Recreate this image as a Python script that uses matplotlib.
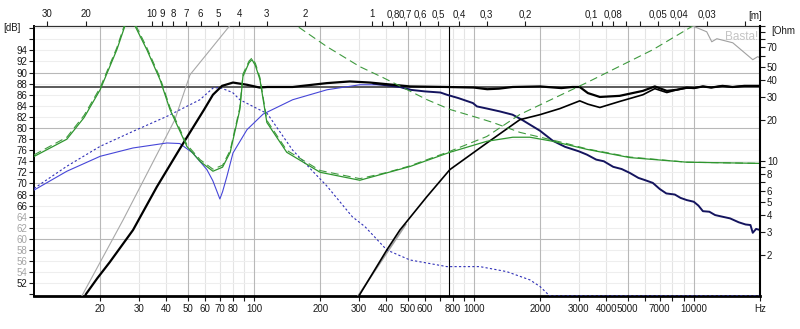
import matplotlib
matplotlib.use("Agg")
import matplotlib.pyplot as plt
from matplotlib.ticker import NullLocator

plt.rcParams['font.family'] = ['Liberation Sans', 'DejaVu Sans']
plt.rcParams['font.size'] = 7

SOUND_SPEED = 343.0   # m/s, for the wavelength scale on top
CURSOR_FREQ = 774     # Hz
CURSOR_DB = 87.4
DB_FLOOR = 49.7       # bottom of the dB scale

# --- SPL curves [dB] -------------------------------------------------------
total_freq = [16.5, 17.2, 19.4, 22.1, 28.2, 36.2, 46.1, 59.3, 65.1, 71.6,
              80.3, 93, 106, 115, 150, 215, 273, 337, 428, 512,
              754, 1000, 1150, 1300, 1500, 2000, 2500, 2800, 3030, 3300,
              3740, 4600, 5870, 6650, 7540, 8380, 9290, 10000, 11000, 12000,
              13500, 15000, 17000, 20000]
total_db = [48.0, 50.0, 52.9, 55.8, 61.6, 69.4, 76.3, 83.3, 86.0, 87.6,
            88.2, 87.8, 87.3, 87.4, 87.4, 88.1, 88.4, 88.2, 87.8, 87.5,
            87.4, 87.3, 87.0, 87.1, 87.4, 87.5, 87.2, 87.4, 87.4, 86.3,
            85.6, 85.8, 86.7, 87.5, 86.7, 86.9, 87.3, 87.2, 87.5, 87.3,
            87.6, 87.4, 87.6, 87.6]

tweeter_freq = [290, 300, 402, 461, 611, 778, 1146, 1618, 1995, 2460,
                3030, 3300, 3740, 4610, 5870, 6650, 7540, 8380, 9290, 10000,
                11000, 12000, 13500, 15000, 17000, 20000]
tweeter_db = [48.7, 49.7, 58.0, 61.6, 67.6, 72.5, 77.3, 81.5, 82.4, 83.5,
              84.9, 84.3, 83.7, 84.8, 86.0, 87.1, 86.4, 86.9, 87.2, 87.2,
              87.5, 87.3, 87.6, 87.4, 87.6, 87.6]

tweeter_raw_freq = [285, 490]
tweeter_raw_db = [48.6, 62.6]

woofer_raw_freq = [15.8, 16.5, 25.4, 43.7, 51.2, 77.8, 85.0]
woofer_raw_db = [48.3, 49.7, 63.4, 81.5, 89.6, 98.5, 100.4]

woofer_sim_freq = [10, 14.1, 20, 28.2, 40.2, 46, 52.7, 61.1, 65, 68,
                   70, 72, 75.4, 80.3, 93, 110, 150, 215, 303, 386,
                   461, 512]
woofer_sim_db = [68.8, 72.2, 74.9, 76.4, 77.3, 77.2, 75.5, 72.5, 70.5, 68.5,
                 67.2, 68.5, 71.3, 75.5, 79.7, 82.5, 85.1, 86.9, 87.8, 87.8,
                 87.4, 87.0]

woofer_meas_freq = [350, 400, 461, 512, 600, 705, 754, 850, 990, 1032,
                    1150, 1310, 1500, 1652, 1800, 2000, 2285, 2600, 3000, 3265,
                    3600, 3900, 4300, 4700, 5117, 5600, 6000, 6511, 7000, 7500,
                    8200, 8700, 9291, 10000, 10500, 11000, 11770, 12500, 13500, 14620,
                    16000, 17200, 18100, 18540, 19200, 20000]
woofer_meas_db = [88.0, 87.7, 87.4, 86.9, 86.6, 86.4, 86.0, 85.4, 84.5, 83.9,
                  83.5, 83.0, 82.4, 81.5, 80.6, 79.5, 77.7, 76.6, 75.8, 75.2,
                  74.3, 74.0, 73.0, 72.6, 71.9, 71.0, 70.6, 70.1, 69.0, 68.2,
                  68.0, 67.4, 67.0, 66.7, 66.0, 65.0, 64.9, 64.3, 64.0, 63.7,
                  63.0, 62.6, 62.5, 61.1, 61.8, 61.6]

port_freq = [10, 14.1, 20, 28.2, 40.2, 56.8, 65.1, 70, 80, 86.3,
             100, 115, 150, 215, 280, 320, 402, 512, 754, 1065,
             1410, 1800, 2000, 2214, 20000]
port_db = [69.1, 73.1, 76.7, 79.4, 82.1, 85.1, 87.2, 87.3, 86.4, 85.1,
           83.8, 82.6, 76.0, 69.5, 64.0, 62.2, 58.0, 56.2, 55.0, 55.0,
           54.1, 52.6, 51.4, 49.7, 49.7]

# --- impedance curves [Ohm] ------------------------------------------------
z_sys_freq = [10, 14.1, 16.9, 20, 23.8, 25.9, 27.3, 28.8, 32.6, 37.4,
              41.5, 49.6, 57, 65.1, 72, 78, 86.3, 89.1, 95, 98,
              101.5, 106.5, 114.5, 141, 200, 303, 512, 778, 1146, 1504,
              1798, 2285, 3265, 5117, 9291, 20000]
z_sys_ohm = [10.8, 14.5, 21.0, 33.8, 66.7, 100, 140, 100, 66.7, 40.1,
             24.1, 12.8, 9.9, 8.4, 9.0, 11.6, 24.1, 42.2, 53.5, 56.3,
             51.0, 40.1, 19.3, 11.6, 8.25, 7.2, 9.1, 11.6, 14.0, 15.0,
             15.0, 14.0, 12.2, 10.6, 9.8, 9.6]

z_woofer_freq = [10, 14.1, 16.9, 20, 23.8, 25.9, 27.3, 28.8, 32.6, 37.4,
                 41.5, 49.6, 57, 65.1, 72, 78, 86.3, 89.1, 95, 98,
                 101.5, 106.5, 114.5, 141, 200, 303, 400, 512, 778, 1146,
                 1618, 3265, 6511, 9890, 12000]
z_woofer_ohm = [11.1, 15.0, 21.8, 35.0, 69.0, 104, 145, 104, 69.0, 41.5,
                25.0, 13.2, 10.2, 8.7, 9.3, 12.0, 25.0, 44.0, 55.0, 58.0,
                53.0, 41.5, 20.0, 12.0, 8.5, 7.4, 8.2, 9.2, 11.8, 15.2,
                22.1, 38.1, 66.7, 100, 115]

z_tweeter_freq = [130, 157, 215, 303, 386, 476, 611, 778, 1032, 1219,
                  1618, 2540, 3265, 5117, 9291, 20000]
z_tweeter_ohm = [125, 100, 70.2, 50.0, 41.5, 35.0, 28.5, 24.1, 21.0, 19.3,
                 16.3, 13.7, 12.3, 10.7, 9.8, 9.6]

z_meas_freq = [9000, 9890, 11450, 12070, 12730, 15040, 18540, 19540, 20000]
z_meas_ohm = [110, 100, 90.6, 76.4, 80.5, 75.1, 56.3, 59.3, 58.0]

# --- axis ticks --------------------------------------------------------------
freq_ticks = [20, 30, 40, 50, 60, 70, 80, 90, 100, 200, 300, 400, 500, 600, 700,
              800, 900, 1000, 2000, 3000, 4000, 5000, 6000, 7000, 8000, 9000,
              10000, 20000]
freq_labels = ['20', '30', '40', '50', '60', '70', '80', '', '100', '200', '300',
               '400', '500', '600', '', '800', '', '1000', '2000', '3000', '4000',
               '5000', '', '7000', '', '', '10000', 'Hz']
freq_grid_major = [20, 50, 100, 200, 500, 1000, 2000, 5000, 10000]

wl_ticks = [30, 20, 10, 9, 8, 7, 6, 5, 4, 3, 2, 1, 0.9, 0.8, 0.7, 0.6, 0.5, 0.4,
            0.3, 0.2, 0.1, 0.09, 0.08, 0.07, 0.06, 0.05, 0.04, 0.03, 0.02]
wl_labels = ['30', '20', '10', '9', '8', '7', '6', '5', '4', '3', '2', '1', '',
             '0,8', '0,7', '0,6', '0,5', '0,4', '0,3', '0,2', '0,1', '', '0,08',
             '', '', '0,05', '0,04', '0,03', '']

db_ticks = list(range(50, 99, 2))
ohm_ticks = [2, 3, 4, 5, 6, 7, 8, 9, 10, 20, 30, 40, 50, 60, 70, 80, 90, 100]
ohm_labels = ['2', '3', '4', '5', '6', '', '8', '', '10', '20', '30', '40',
              '50', '', '70', '', '', '']

fig = plt.figure(figsize=(8.0, 3.29), dpi=100)
ax = fig.add_axes([34 / 800, 33 / 329, 726 / 800, 270 / 329])
ax.set_xscale('log')
ax.set_xlim(10, 20000)
ax.set_ylim(DB_FLOOR, 98.4)

# grid
for f in freq_ticks:
    if f in freq_grid_major:
        ax.axvline(f, color='#b8b8b8', lw=0.8, zorder=1)
    else:
        ax.axvline(f, color='#e4e4e4', lw=0.8, zorder=0.5)
for d in db_ticks[1:]:
    if d % 10 == 0:
        ax.axhline(d, color='#b8b8b8', lw=0.8, zorder=1)
    else:
        ax.axhline(d, color='#eeeeee', lw=0.8, zorder=0.5)

# cursors
ax.axhline(CURSOR_DB, color='#5a5a5a', lw=1.4, zorder=2)
ax.axvline(CURSOR_FREQ, color='black', lw=0.8, zorder=2)

# SPL curves
ax.plot(woofer_raw_freq, woofer_raw_db, color='#a8a8a8', lw=0.8, zorder=3)
ax.plot(tweeter_raw_freq, tweeter_raw_db, color='#a0a0a0', lw=1.2, zorder=3)
ax.plot(port_freq, port_db, color='#3030b8', lw=0.8, ls=(0, (2, 2)), zorder=4)
ax.plot(woofer_sim_freq, woofer_sim_db, color='#4646d8', lw=0.8, zorder=4)
ax.plot(woofer_meas_freq, woofer_meas_db, color='#14145e', lw=1.4, zorder=5)
ax.plot(tweeter_freq, tweeter_db, color='black', lw=1.2, zorder=6)
ax.plot(total_freq, total_db, color='black', lw=1.6, zorder=6)

ax.text(0.997, 0.982, 'Basta!', transform=ax.transAxes, ha='right', va='top',
        color='#c4c4c4', fontsize=8.5, zorder=7)

# impedance on the right-hand scale
axr = ax.twinx()
axr.set_yscale('log')
axr.set_ylim(1, 100)
axr.plot(z_woofer_freq, z_woofer_ohm, color='#3f9a3f', lw=0.8, ls=(0, (7, 4)))
axr.plot(z_tweeter_freq, z_tweeter_ohm, color='#3f9a3f', lw=0.8, ls=(0, (7, 4)))
axr.plot(z_sys_freq, z_sys_ohm, color='#2f962f', lw=0.9)
axr.plot(z_meas_freq, z_meas_ohm, color='#a0a0a0', lw=0.8)

# axes styling
tick_kw = dict(direction='out', length=3.5, width=0.8, colors='#1a1a1a',
               labelsize=7)
ax.set_xticks(freq_ticks, labels=freq_labels)
ax.xaxis.set_minor_locator(NullLocator())
ax.set_yticks(db_ticks, labels=[str(d) if 52 <= d <= 94 else '' for d in db_ticks])
ax.yaxis.set_minor_locator(NullLocator())
ax.tick_params(axis='x', pad=2, **tick_kw)
ax.tick_params(axis='y', pad=1.5, **tick_kw)
ax.tick_params(right=False, top=False)
for lbl, d in zip(ax.get_yticklabels(), db_ticks):
    if 54 <= d <= 64:
        lbl.set_color('#a4a4a4')

axr.set_yticks(ohm_ticks, labels=ohm_labels)
axr.yaxis.set_minor_locator(NullLocator())
axr.tick_params(axis='y', pad=1.5, **tick_kw)

top = ax.secondary_xaxis('top')
top.set_xticks([SOUND_SPEED / w for w in wl_ticks], labels=wl_labels)
top.xaxis.set_minor_locator(NullLocator())
top.tick_params(axis='x', pad=1.5, **tick_kw)
top.spines['top'].set_linewidth(0.8)
top.spines['top'].set_color('#303030')

ax.spines['bottom'].set_linewidth(2.0)
ax.spines['left'].set_linewidth(1.4)
ax.spines['right'].set_visible(False)
ax.spines['top'].set_linewidth(0.8)
ax.spines['top'].set_color('#303030')
for side in ('left', 'top', 'bottom'):
    axr.spines[side].set_visible(False)
axr.spines['right'].set_linewidth(1.5)

fig.text(3 / 800, 1 - 28 / 329, '[dB]', fontsize=7, va='center', color='#1a1a1a')
fig.text(771 / 800, 1 - 31 / 329, '[Ohm', fontsize=7, va='center', color='#1a1a1a')
fig.text(755 / 800, 1 - 16 / 329, '[m]', fontsize=7, va='center', ha='center',
         color='#1a1a1a')

fig.savefig('out.png', dpi=100)
